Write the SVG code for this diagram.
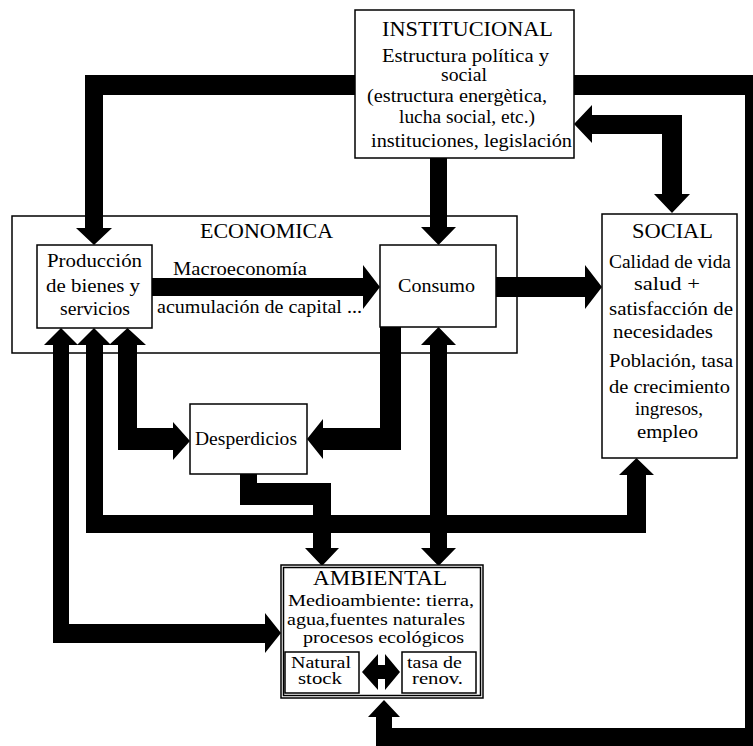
<svg xmlns="http://www.w3.org/2000/svg" width="753" height="746" viewBox="0 0 753 746">
<style>
.box{fill:#fff;stroke:#000;stroke-width:1.5}
.frame{fill:none;stroke:#000;stroke-width:1.5}
.t{font-family:"Liberation Serif","Times New Roman",serif;font-size:18px;fill:#000}
.h{font-size:22px}
.h2{font-size:20px}
.s{font-size:16px}
.xs{font-size:16px}
.c{fill:#000;stroke:none}
</style>
<rect width="753" height="746" fill="#fff"/>
<g id="economica">
<rect class="frame" x="12" y="216" width="505" height="137"/>
<text class="t h2" x="200" y="238" textLength="133" lengthAdjust="spacingAndGlyphs">ECONOMICA</text>
<text class="t" x="173" y="275" textLength="134" lengthAdjust="spacingAndGlyphs">Macroeconomía</text>
<text class="t" x="157" y="313" textLength="205" lengthAdjust="spacingAndGlyphs">acumulación de capital ...</text>
</g>
<g id="connectors">
<path class="c" d="M85,228 H76 L94,245 L112,228 H103 V95 H745 V728 H392 V717 H400 L384,700 L368,717 H376 V760 H760 V75 H85 Z"/>
<path class="c" d="M574,124 L592,105 V115 H682 V194 H690 L672,213 L654,194 H662 V134 H592 V143 Z"/>
<path class="c" d="M430,158 H447 V227 H456 L438.5,245 L421,227 H430 Z"/>
<path class="c" d="M152,278 H363 V265 L380,287 L363,309 V296 H152 Z"/>
<path class="c" d="M496,277 H585 V265 L602,287 L585,309 V297 H496 Z"/>
<path class="c" d="M61,328 L78,345 H69 V624 H265 V613 L281,633 L265,653 V643 H53 V345 H44 Z"/>
<path class="c" d="M94,328 L111,345 H103 V515 H627 V475 H619 L636.5,458 L654,475 H646 V533 H86 V345 H77 Z"/>
<path class="c" d="M127.5,328 L146,345 H137 V428 H173 V422 L190,441 L173,460 V450 H118 V345 H109 Z"/>
<path class="c" d="M380,327 H401 V450 H323 V459 L307,439 L323,419 V428 H380 Z"/>
<path class="c" d="M438.5,327 L456,345 H447 V548 H456 L438.5,566 L421,548 H430 V345 H421 Z"/>
<path class="c" d="M240,474 H257 V483 H331 V548 H339 L322,566 L305,548 H313 V505 H240 Z"/>
</g>
<g id="institucional">
<rect class="box" x="355" y="10" width="219" height="148"/>
<text class="t h" x="382" y="36" textLength="171" lengthAdjust="spacingAndGlyphs">INSTITUCIONAL</text>
<text class="t" x="382" y="62" textLength="167" lengthAdjust="spacingAndGlyphs">Estructura política y</text>
<text class="t" x="441" y="81" textLength="46" lengthAdjust="spacingAndGlyphs">social</text>
<text class="t" x="367" y="102" font-size="17" textLength="180" lengthAdjust="spacingAndGlyphs">(estructura energètica,</text>
<text class="t" x="399" y="123" textLength="136" lengthAdjust="spacingAndGlyphs">lucha social, etc.)</text>
<text class="t" x="371" y="147" textLength="201" lengthAdjust="spacingAndGlyphs">instituciones, legislación</text>
</g>
<g id="produccion">
<rect class="box" x="37" y="245" width="115" height="83"/>
<text class="t" x="47" y="267" textLength="95" lengthAdjust="spacingAndGlyphs">Producción</text>
<text class="t" x="46" y="292" textLength="94" lengthAdjust="spacingAndGlyphs">de bienes y</text>
<text class="t" x="60" y="315" textLength="70" lengthAdjust="spacingAndGlyphs">servicios</text>
</g>
<g id="consumo">
<rect class="box" x="380" y="245" width="116" height="82"/>
<text class="t" x="398" y="292" textLength="77" lengthAdjust="spacingAndGlyphs">Consumo</text>
</g>
<g id="social">
<rect class="box" x="602" y="214" width="135" height="244"/>
<text class="t h2" x="632" y="238" textLength="81" lengthAdjust="spacingAndGlyphs">SOCIAL</text>
<text class="t" x="609" y="268" textLength="122" lengthAdjust="spacingAndGlyphs">Calidad de vida</text>
<text class="t" x="634" y="290" textLength="66" lengthAdjust="spacingAndGlyphs">salud +</text>
<text class="t" x="609" y="315" textLength="124" lengthAdjust="spacingAndGlyphs">satisfacción de</text>
<text class="t" x="613" y="338" textLength="100" lengthAdjust="spacingAndGlyphs">necesidades</text>
<text class="t" x="609" y="367" textLength="124" lengthAdjust="spacingAndGlyphs">Población, tasa</text>
<text class="t" x="609" y="393" textLength="121" lengthAdjust="spacingAndGlyphs">de crecimiento</text>
<text class="t" x="635" y="415" textLength="68" lengthAdjust="spacingAndGlyphs">ingresos,</text>
<text class="t" x="637" y="438" textLength="61" lengthAdjust="spacingAndGlyphs">empleo</text>
</g>
<g id="desperdicios">
<rect class="box" x="190" y="404" width="117" height="70"/>
<text class="t" x="195" y="445" textLength="102" lengthAdjust="spacingAndGlyphs">Desperdicios</text>
</g>
<g id="ambiental">
<rect class="box" x="281" y="565" width="202" height="133"/>
<rect class="frame" x="283.5" y="567.5" width="197" height="128" stroke-width="1"/>
<text class="t h" x="313" y="585" textLength="134" lengthAdjust="spacingAndGlyphs">AMBIENTAL</text>
<text class="t s" x="288" y="606" textLength="186" lengthAdjust="spacingAndGlyphs">Medioambiente: tierra,</text>
<text class="t s" x="287" y="625" textLength="178" lengthAdjust="spacingAndGlyphs">agua,fuentes naturales</text>
<text class="t s" x="303" y="643" textLength="161" lengthAdjust="spacingAndGlyphs">procesos ecológicos</text>
<g id="natural-stock">
<rect class="box" x="285" y="652" width="74" height="41" stroke-width="2"/>
<text class="t xs" x="291" y="668" textLength="60" lengthAdjust="spacingAndGlyphs">Natural</text>
<text class="t xs" x="298" y="684" textLength="44" lengthAdjust="spacingAndGlyphs">stock</text>
</g>
<g id="tasa-renov">
<rect class="box" x="402" y="652" width="74" height="41" stroke-width="2"/>
<text class="t xs" x="407" y="668" textLength="55" lengthAdjust="spacingAndGlyphs">tasa de</text>
<text class="t xs" x="412" y="684" textLength="51" lengthAdjust="spacingAndGlyphs">renov.</text>
</g>
<path class="c" d="M362,672 L378,654 V665 H385 V654 L400,672 L385,690 V679 H378 V690 Z"/>
</g>
</svg>
